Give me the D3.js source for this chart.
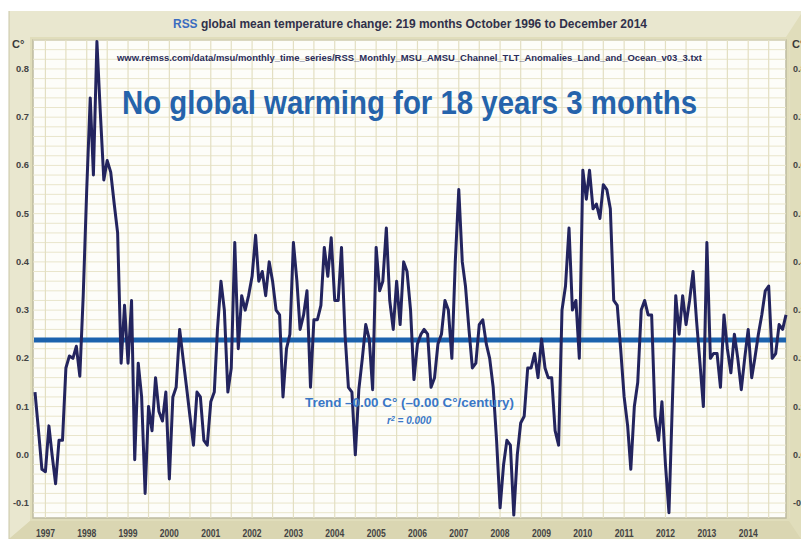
<!DOCTYPE html>
<html>
<head>
<meta charset="utf-8">
<script src="https://cdn.jsdelivr.net/npm/d3@7"></script>
<style>
  body { margin: 0; background: #fff; }
  svg { display: block; }
  text { font-family: "Liberation Sans", Arial, sans-serif; font-weight: bold; }
</style>
</head>
<body>
<svg class="chart-rss" width="801" height="539"></svg>
<script>
// monthly anomalies, Oct 1996 .. Dec 2014 (219 months)
var anomalies = [
  0.13, 0.05, -0.03, -0.035, 0.06, 0.0, -0.06, 0.03, 0.03, 0.18,
  0.205, 0.2, 0.225, 0.163, 0.33, 0.55, 0.74, 0.58, 0.857, 0.71,
  0.57, 0.61, 0.586, 0.52, 0.46, 0.19, 0.31, 0.19, 0.32, -0.01,
  0.19, 0.12, -0.08, 0.1, 0.05, 0.16, 0.09, 0.07, 0.13, -0.05,
  0.12, 0.14, 0.26, 0.2, 0.14, 0.08, 0.02, 0.13, 0.12, 0.03,
  0.02, 0.11, 0.13, 0.26, 0.36, 0.3, 0.13, 0.18, 0.44, 0.22,
  0.33, 0.3, 0.33, 0.37, 0.455, 0.36, 0.38, 0.33, 0.40, 0.36,
  0.3, 0.29, 0.12, 0.22, 0.25, 0.44, 0.36, 0.26, 0.29, 0.34,
  0.14, 0.28, 0.28, 0.31, 0.43, 0.37, 0.45, 0.32, 0.32, 0.43,
  0.25, 0.14, 0.13, 0.0, 0.135, 0.2, 0.27, 0.24, 0.135, 0.43,
  0.34, 0.36, 0.47, 0.32, 0.26, 0.36, 0.27, 0.40, 0.38, 0.3,
  0.156, 0.23, 0.25, 0.26, 0.25, 0.14, 0.16, 0.23, 0.25, 0.32,
  0.30, 0.2, 0.4, 0.55, 0.40, 0.35, 0.26, 0.18, 0.19, 0.27,
  0.28, 0.23, 0.2, 0.14, 0.03, -0.11, -0.02, 0.03, 0.02, -0.125,
  0.0, 0.066, 0.08, 0.18, 0.18, 0.21, 0.16, 0.24, 0.18, 0.16,
  0.16, 0.05, 0.02, 0.3, 0.35, 0.47, 0.3, 0.32, 0.2, 0.59,
  0.53, 0.59, 0.51, 0.52, 0.49, 0.56, 0.55, 0.51, 0.32, 0.31,
  0.22, 0.12, 0.06, -0.03, 0.1, 0.15, 0.3, 0.32, 0.29, 0.29,
  0.08, 0.03, 0.11, -0.02, -0.12, 0.1, 0.33, 0.25, 0.33, 0.27,
  0.32, 0.38, 0.28, 0.19, 0.1, 0.44, 0.2, 0.21, 0.21, 0.14,
  0.29, 0.22, 0.17, 0.25, 0.2, 0.135, 0.2, 0.26, 0.16, 0.2,
  0.25, 0.29, 0.34, 0.35, 0.2, 0.21, 0.27, 0.26, 0.29
];

var yTicks = [0.8, 0.7, 0.6, 0.5, 0.4, 0.3, 0.2, 0.1, 0.0, -0.1];
var yTickLabels = ["0.8", "0.7", "0.6", "0.5", "0.4", "0.3", "0.2", "0.1", "0.0", "-0.1"];
var years = [1997, 1998, 1999, 2000, 2001, 2002, 2003, 2004, 2005, 2006,
             2007, 2008, 2009, 2010, 2011, 2012, 2013, 2014];
var trendValue = 0.238;

var titleText = "global mean temperature change: 219 months October 1996 to December 2014";
var urlText = "www.remss.com/data/msu/monthly_time_series/RSS_Monthly_MSU_AMSU_Channel_TLT_Anomalies_Land_and_Ocean_v03_3.txt";
var headline = "No global warming for 18 years 3 months";

var plot = { left: 33, right: 786, top: 40, bottom: 518 };

var startDate = new Date(1996, 9, 1);
var dates = anomalies.map(function (d, i) { return d3.timeMonth.offset(startDate, i); });

var x = d3.scaleTime()
          .domain([dates[0], dates[dates.length - 1]])
          .range([35, 786]);
var y = d3.scaleLinear()
          .domain([-0.131, 0.86])
          .range([plot.bottom, plot.top]);

var svg = d3.select("svg.chart-rss");

// frame
svg.append("rect")
   .attr("x", 9).attr("y", 11)
   .attr("width", 792).attr("height", 528)
   .attr("fill", "#e0ddbb");
// bevels
svg.append("polygon")
   .attr("points", "9,11 801,11 801,14 " + (plot.right) + "," + (plot.top - 3) + " " + (plot.left - 3) + "," + (plot.top - 3) + " " + (plot.left - 3) + "," + (plot.bottom + 3) + " 9,539")
   .attr("fill", "#e9e7cf");
svg.append("polygon")
   .attr("points", (plot.left - 3) + "," + (plot.bottom + 3) + " " + (plot.right + 3) + "," + (plot.bottom + 3) + " 801,539 9,539")
   .attr("fill", "#dad6b2");
svg.append("line")
   .attr("x1", 9).attr("x2", 9).attr("y1", 11).attr("y2", 539)
   .attr("stroke", "#c9c6a6").attr("stroke-width", 1);

// plot area
svg.append("rect")
   .attr("x", plot.left).attr("y", plot.top)
   .attr("width", plot.right - plot.left).attr("height", plot.bottom - plot.top)
   .attr("fill", "#fdfdf9")
   .attr("stroke", "#bdbaa0")
   .attr("stroke-width", 1.5);

// grid
var hGrid = d3.range(-0.12, 0.861, 0.02);
svg.append("g").selectAll("line.h")
   .data(hGrid)
   .enter().append("line")
   .attr("class", "h")
   .attr("x1", plot.left).attr("x2", plot.right)
   .attr("y1", function (d) { return y(d); })
   .attr("y2", function (d) { return y(d); })
   .attr("stroke", "#e9e5cb").attr("stroke-width", 1);

var vGrid = d3.timeMonth.every(6).range(new Date(1997, 0, 1), new Date(2015, 0, 2));
svg.append("g").selectAll("line.v")
   .data(vGrid)
   .enter().append("line")
   .attr("class", "v")
   .attr("x1", function (d) { return x(d); })
   .attr("x2", function (d) { return x(d); })
   .attr("y1", plot.top).attr("y2", plot.bottom)
   .attr("stroke", "#e3dfc2").attr("stroke-width", 1.2);

// titles
var title = svg.append("text")
   .attr("x", 173).attr("y", 28)
   .attr("font-size", 13)
   .attr("textLength", 474)
   .attr("lengthAdjust", "spacingAndGlyphs")
   .attr("fill", "#30304a");
title.append("tspan").attr("fill", "#3b6cc0").text("RSS ");
title.append("tspan").text(titleText);

svg.append("text")
   .attr("x", 117).attr("y", 61)
   .attr("font-size", 9.5)
   .attr("textLength", 585)
   .attr("lengthAdjust", "spacingAndGlyphs")
   .attr("fill", "#2a2d5a")
   .text(urlText);

svg.append("text")
   .attr("x", 122).attr("y", 114)
   .attr("font-size", 34)
   .attr("textLength", 575)
   .attr("lengthAdjust", "spacingAndGlyphs")
   .attr("fill", "#2563ab")
   .text(headline);

// axes labels
svg.append("text")
   .attr("x", 12).attr("y", 48)
   .attr("font-size", 11).attr("fill", "#3a3a3a")
   .text("C°");
svg.append("text")
   .attr("x", 792).attr("y", 48)
   .attr("font-size", 11).attr("fill", "#3a3a3a")
   .text("C°");

svg.append("g").selectAll("text")
   .data(yTicks)
   .enter().append("text")
   .attr("x", 29)
   .attr("y", function (d) { return y(d) + 3; })
   .attr("text-anchor", "end")
   .attr("font-size", 9)
   .attr("textLength", function (d, i) { return yTickLabels[i].length > 3 ? 16 : 13; })
   .attr("lengthAdjust", "spacingAndGlyphs")
   .attr("fill", "#444")
   .text(function (d, i) { return yTickLabels[i]; });

svg.append("g").selectAll("text")
   .data(yTicks)
   .enter().append("text")
   .attr("x", 793)
   .attr("y", function (d) { return y(d) + 3; })
   .attr("font-size", 9)
   .attr("fill", "#444")
   .text(function (d, i) { return yTickLabels[i]; });

svg.append("g").selectAll("text")
   .data(years)
   .enter().append("text")
   .attr("x", function (d) { return x(new Date(d, 0, 1)); })
   .attr("y", 537)
   .attr("text-anchor", "middle")
   .attr("font-size", 10)
   .attr("textLength", 19)
   .attr("lengthAdjust", "spacingAndGlyphs")
   .attr("fill", "#444")
   .text(function (d) { return d; });

// trend line
svg.append("line")
   .attr("x1", plot.left + 1).attr("x2", plot.right)
   .attr("y1", y(trendValue)).attr("y2", y(trendValue))
   .attr("stroke", "#1b62ad")
   .attr("stroke-width", 5);

// data line
var line = d3.line()
   .x(function (d, i) { return x(dates[i]); })
   .y(function (d) { return y(d); });

svg.append("path")
   .datum(anomalies)
   .attr("d", line)
   .attr("fill", "none")
   .attr("stroke", "#23245e")
   .attr("stroke-width", 3)
   .attr("stroke-linejoin", "round");

// trend annotation
svg.append("text")
   .attr("x", 305).attr("y", 407)
   .attr("font-size", 12)
   .attr("textLength", 209)
   .attr("lengthAdjust", "spacingAndGlyphs")
   .attr("fill", "#3a77c6")
   .text("Trend –0.00 C° (–0.00 C°/century)");

var r2 = svg.append("text")
   .attr("x", 387).attr("y", 424)
   .attr("font-size", 10)
   .attr("font-style", "italic")
   .attr("fill", "#3a77c6");
r2.append("tspan").text("r");
r2.append("tspan").attr("dy", -3).attr("font-size", 7).text("2");
r2.append("tspan").attr("dy", 3).text(" = 0.000");
</script>
</body>
</html>
